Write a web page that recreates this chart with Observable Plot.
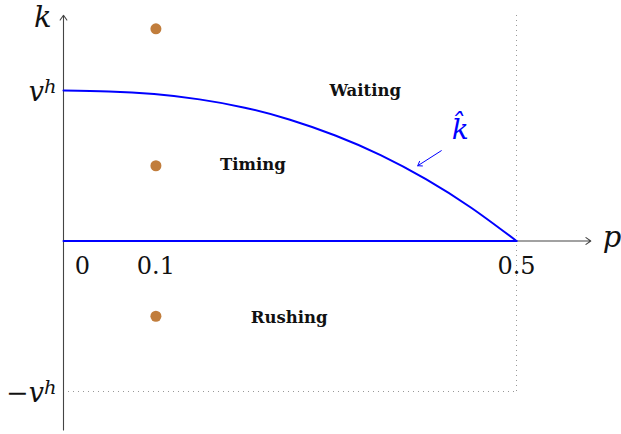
<!DOCTYPE html>
<html><head><meta charset="utf-8">
<script src="https://cdn.jsdelivr.net/npm/d3@7"></script>
<script src="https://cdn.jsdelivr.net/npm/@observablehq/plot@0.6"></script>
<style>body{margin:0;background:#fff;overflow:hidden}</style>
</head><body><div id="chart"></div>
<script>
// threshold curve k-hat(p)
const curveP = [0, 0.05, 0.10, 0.15, 0.20, 0.25, 0.30, 0.35, 0.40, 0.45, 0.50];
const curveK = [1, 0.994, 0.976, 0.941, 0.886, 0.806, 0.701, 0.571, 0.411, 0.221, 0];
// k = 0 segment
const baseP = [0, 0.5];
const baseK = [0, 0];
// example points at p = 0.1
const dotP = [0.102, 0.102, 0.102];
const dotK = [1.41, 0.5, -0.5];
// region labels
const regionNames = ["Waiting", "Timing", "Rushing"];
const regionP = [0.333, 0.209, 0.249];
const regionK = [1.0, 0.51, -0.51];
// tick labels
const pTicks = [0.102, 0.5];
const pTickLabels = ["0.1", "0.5"];
const pZero = [0];
const pZeroLabel = ["0"];
const kTicks = [1, -1];
const kTickLabels = ["v^h", "\u2212v^h"];
// axes extents and bounds
const pAxisMax = 0.582;
const kAxisMax = 1.5;
const kAxisMin = -1.255;
const pBound = 0.5;
const kBound = -1;
// k-hat label and pointer
const hatLabel = ["k\u0302"];
const hatP = [0.438];
const hatK = [0.74];
const hatArrow = [{p1: 0.417, k1: 0.6, p2: 0.391, k2: 0.5}];

const curve = curveP.map((p, i) => ({p, k: curveK[i]}));
const base = baseP.map((p, i) => ({p, k: baseK[i]}));
const dots = dotP.map((p, i) => ({p, k: dotK[i]}));
const regions = regionNames.map((name, i) => ({name, p: regionP[i], k: regionK[i]}));
const pTickData = pTicks.map((p, i) => ({p, label: pTickLabels[i]}));
const kTickData = kTicks.map((k, i) => ({k, label: kTickLabels[i]}));

const serif = "'DejaVu Serif', serif";
const axisColor = "#444";

const chart = Plot.plot({
  width: 621,
  height: 434,
  x: {domain: [0, 0.5], range: [63, 516], axis: null},
  y: {domain: [-1, 1], range: [391, 90], axis: null},
  marks: [
    Plot.ruleX([pBound], {x: d => d, y1: kBound, y2: kAxisMax, stroke: "#999", strokeDasharray: "1,4", strokeWidth: 1}),
    Plot.ruleY([kBound], {y: d => d, x1: 0, x2: pBound, stroke: "#999", strokeDasharray: "1,4", strokeWidth: 1}),
    Plot.arrow([{}], {x1: 0, y1: kAxisMin, x2: 0, y2: kAxisMax, stroke: axisColor, strokeWidth: 1.1, headLength: 8, headAngle: 70}),
    Plot.arrow([{}], {x1: 0, y1: 0, x2: pAxisMax, y2: 0, stroke: axisColor, strokeWidth: 1.1, headLength: 8, headAngle: 70}),
    Plot.line(base, {x: "p", y: "k", stroke: "#0000ff", strokeWidth: 2}),
    Plot.line(curve, {x: "p", y: "k", stroke: "#0000ff", strokeWidth: 2, curve: "natural"}),
    Plot.arrow(hatArrow, {x1: "p1", y1: "k1", x2: "p2", y2: "k2", stroke: "#0000ff", strokeWidth: 1, headLength: 7, headAngle: 70}),
    Plot.dot(dots, {x: "p", y: "k", r: 5.5, fill: "#c17d3c"}),
    Plot.text(regions, {x: "p", y: "k", text: "name", fontFamily: serif, fontWeight: "bold", fontSize: 16.5, fill: "#111"}),
    Plot.text(pTickData, {x: "p", y: () => 0, text: "label", fontFamily: serif, fontSize: 24, dy: 25, fill: "#111"}),
    Plot.text(pZeroLabel, {x: (d, i) => pZero[i], y: () => 0, text: d => d, fontFamily: serif, fontSize: 24, dy: 25, dx: 19, fill: "#111"}),
    Plot.text(kTickData, {x: () => 0, y: "k", text: "label", fontFamily: serif, fontStyle: "italic", fontSize: 27, textAnchor: "end", dx: -7, dy: 2, fill: "#111"}),
    Plot.text(["k"], {x: () => 0, y: () => kAxisMax, text: d => d, fontFamily: serif, fontStyle: "italic", fontSize: 29, textAnchor: "end", dx: -12, dy: 2, fill: "#111"}),
    Plot.text(["p"], {x: () => pAxisMax, y: () => 0, text: d => d, fontFamily: serif, fontStyle: "italic", fontSize: 29, textAnchor: "start", dx: 12, dy: -3, fill: "#111"}),
    Plot.text(hatLabel, {x: (d, i) => hatP[i], y: (d, i) => hatK[i], text: d => d, fontFamily: serif, fontStyle: "italic", fontSize: 28, fill: "#0000ff"})
  ]
});

// render "a^b" as superscript tspans
d3.select(chart).selectAll("text").each(function() {
  const t = this.textContent;
  if (t.includes("^") && this.children.length === 0) {
    const [base, sup] = t.split("^");
    this.textContent = "";
    const s = d3.select(this);
    s.append("tspan").text(base);
    s.append("tspan").attr("dy", "-0.42em").attr("font-size", "0.72em").text(sup);
  }
});

document.getElementById("chart").appendChild(chart);
</script>
</body></html>
